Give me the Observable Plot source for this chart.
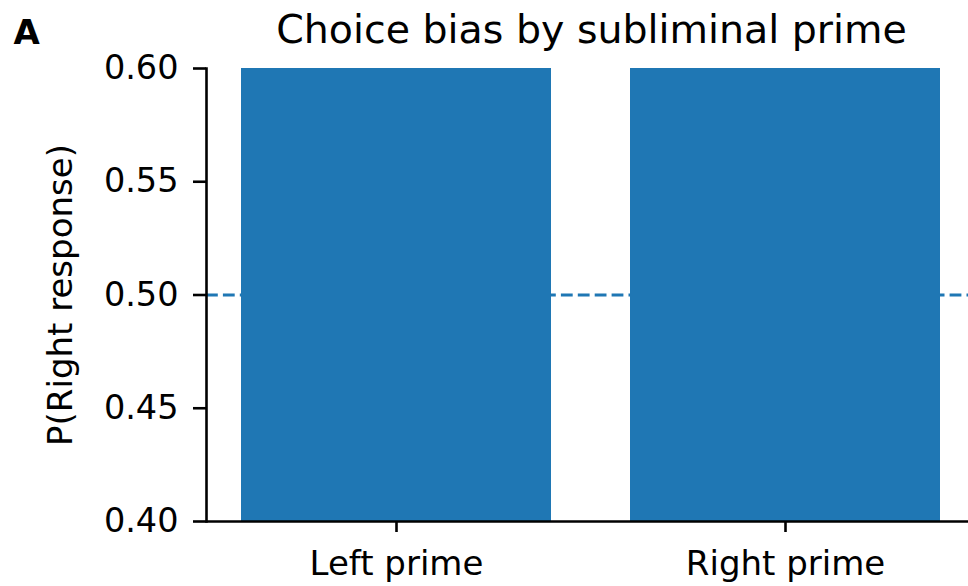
<!DOCTYPE html>
<html>
<head>
<meta charset="utf-8">
<script src="https://cdn.jsdelivr.net/npm/d3@7"></script>
<script src="https://cdn.jsdelivr.net/npm/@observablehq/plot@0.6"></script>
<style>
  html, body { margin: 0; padding: 0; background: #fff; }
  #chart svg { display: block; }
</style>
</head>
<body>
<div id="chart"></div>
<script>
// Data
const categories = ["Left prime", "Right prime"];
const values = [0.68, 0.71]; // bars exceed the 0.60 axis limit and are clipped
const yTicks = [0.40, 0.45, 0.50, 0.55, 0.60];
const yDomain = [0.40, 0.60];
const chanceLevel = [0.5];
const title = "Choice bias by subliminal prime";
const yLabel = "P(Right response)";
const panelLabel = "A";

const data = categories.map((c, i) => ({category: c, value: values[i]}));

const FONT = "DejaVu Sans";
const BLUE = "#1f77b4";

const chart = Plot.plot({
  width: 968,
  height: 586,
  marginLeft: 206,
  marginRight: 0,
  marginTop: 68,
  marginBottom: 65,
  style: {fontFamily: FONT, color: "black", background: "white", overflow: "hidden"},
  x: {type: "band", domain: categories, range: [206, 976], paddingInner: 0.203, paddingOuter: 0.091},
  y: {domain: yDomain},
  marks: [
    Plot.ruleY(chanceLevel, {stroke: BLUE, strokeWidth: 3.2, strokeDasharray: "11.8,5.1"}),
    Plot.barY(data, {x: "category", y: "value", fill: BLUE, clip: true}),
    Plot.ruleY([yDomain[0]], {stroke: "black", strokeWidth: 2.6}),
    Plot.frame({anchor: "left", stroke: "black", strokeWidth: 2.6}),
    Plot.axisY({ticks: yTicks, tickFormat: d3.format(".2f"), tickSize: 13, tickPadding: 15,
      fontSize: 33.5, strokeWidth: 2.6, label: null}),
    Plot.axisX({tickSize: 11, tickPadding: 18, fontSize: 34, strokeWidth: 2.6, label: null}),
    Plot.text([yLabel], {frameAnchor: "left", rotate: -90, dx: -135, lineAnchor: "bottom",
      textAnchor: "middle", fontSize: 34, fill: "black"}),
    Plot.text([title], {frameAnchor: "top", dx: 4, dy: -26, lineAnchor: "bottom",
      textAnchor: "middle", fontSize: 39.5, fill: "black"}),
    Plot.text([panelLabel], {frameAnchor: "top-left", dx: -193, dy: -25, lineAnchor: "bottom",
      textAnchor: "start", fontSize: 34, fontWeight: "bold", fill: "black"})
  ]
});

document.getElementById("chart").appendChild(chart);
</script>
</body>
</html>
